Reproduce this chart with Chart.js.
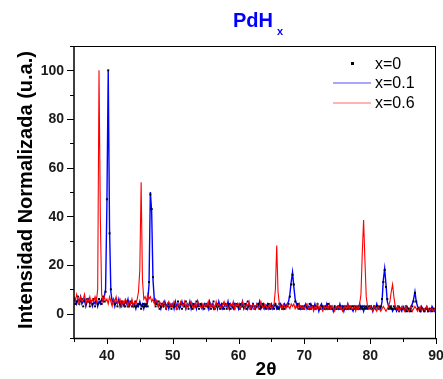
<!DOCTYPE html>
<html>
<head>
<meta charset="utf-8">
<script src="https://cdn.jsdelivr.net/npm/chart.js@4/dist/chart.umd.min.js"></script>
<style>
html,body{margin:0;padding:0;background:#fff;}
canvas{display:block;}
</style>
</head>
<body>
<canvas id="c" width="443" height="379"></canvas>
<script>
// Scan grid (2θ, degrees)
const angleStart = 35;
const angleStep = 0.2;

// Normalised intensity, x = 0 (black squares)
const intensityX0 = [
  6,4,5,7,4,5,6,3,5,4,6,5,3,5,4,6,3,5,4,6,5,4,7,5,9,
  47,100,33,10,4,5,4,6,3,5,4,3,5,4,3,5,3,4,5,3,4,3,5,3,4,
  4,2,3,4,3,4,3,13,49,43,15,5,3,4,5,2,3,4,3,4,2,3,4,3,2,
  3,4,3,2,5,3,4,2,4,3,5,3,2,4,3,2,4,3,5,3,2,4,3,3,2,
  4,3,3,4,2,3,5,2,3,4,3,2,3,4,2,4,2,3,4,2,3,4,2,4,3,
  3,2,4,3,3,4,2,5,3,2,3,4,2,3,3,4,2,3,4,3,3,2,3,4,2,
  3,3,2,4,3,2,4,3,2,3,2,3,3,4,7,12,16,12,5,3,4,2,3,2,3,
  2,3,3,2,4,2,3,3,2,3,4,2,2,3,3,2,3,2,4,2,3,2,2,3,2,
  2,3,2,3,2,3,2,3,2,3,2,3,3,2,3,2,3,2,3,2,3,2,3,2,3,
  3,2,2,3,2,3,3,2,3,6,13,18,11,6,2,3,2,2,3,2,2,3,1,2,2,
  2,2,3,1,2,2,1,3,5,8.5,5,2,2,1,2,2,1,2,2,1,2,2,1,2,2,
  1
];

// Normalised intensity, x = 0.1 (blue line)
const intensityX01 = [
  5,6,4,6,5,7,4,5,6,3,5,6,4,5,3,5,4,6,3,5,4,6,5,7,10,
  45,100,35,9,5,6,3,5,4,6,3,5,4,3,5,4,6,3,4,5,3,4,2,4,3,
  5,3,4,2,4,3,5,12,50,42,14,6,4,5,3,4,2,4,3,5,3,4,2,4,3,
  4,2,5,3,4,2,3,5,3,4,2,4,3,5,2,4,3,4,2,5,3,3,4,2,4,
  3,4,2,5,3,4,2,3,4,2,5,3,4,2,3,4,3,5,2,4,3,2,4,3,4,
  2,4,3,5,2,3,4,2,4,3,2,4,3,2,4,3,5,2,3,4,2,3,4,2,3,
  4,2,3,4,2,3,2,4,3,2,4,3,4,5,8,13,17,11,6,4,3,4,2,3,2,
  3,4,2,3,2,4,3,2,4,2,3,1,3,4,2,3,2,4,2,3,2,3,1,3,2,
  3,2,4,2,3,1,3,2,4,2,3,2,1,3,2,3,2,4,2,3,1,3,2,3,2,
  2,3,1,3,2,4,2,3,2,5,14,18.5,12,5,3,2,3,1,2,3,1,2,3,2,1,
  3,2,1,3,2,1,3,4,6,9,5,3,2,1,3,2,1,2,3,1,2,1,3,2,1,
  2
];

// Normalised intensity, x = 0.6 (red line)
const intensityX06 = [
  7,5,8,6,4,7,5,6,8,4,6,5,7,4,6,5,7,5,10,100,40,8,5,7,5,
  6,4,7,5,3,6,5,7,4,5,6,3,5,4,6,5,3,5,4,6,3,5,4,6,9,
  18,54,14,6,7,5,8,6,7,5,6,4,6,5,3,5,4,3,5,4,2,4,5,3,4,
  3,5,4,2,4,3,5,4,3,5,2,4,3,4,5,3,2,4,3,5,4,3,2,4,3,
  4,3,5,2,4,3,4,2,5,3,4,3,2,4,5,3,4,2,3,4,3,5,2,4,3,
  4,2,3,5,3,2,4,3,5,2,3,4,2,3,4,2,3,5,3,2,4,3,2,3,4,
  2,3,4,10,28,9,4,3,2,4,3,2,4,3,2,4,3,4,2,3,2,4,3,2,3,
  2,3,4,2,3,2,3,1,3,2,4,2,3,2,1,3,2,3,2,4,2,3,2,1,3,
  2,3,2,3,1,2,3,2,4,2,3,2,2,3,1,3,2,4,8,25,38.5,22,7,3,2,
  3,2,1,3,2,1,3,2,1,2,3,2,1,2,3,5,9,12,7,3,2,3,1,2,3,
  2,1,3,2,1,2,3,1,2,3,2,1,2,3,1,2,2,1,3,2,1,2,2,1,2,
  2
];

const seriesLabels = ['x=0', 'x=0.1', 'x=0.6'];
const yTickLabels = [0, 20, 40, 60, 80, 100];
const yMinorTicks = [-10, 10, 30, 50, 70, 90, 110];
const xTickLabels = [40, 50, 60, 70, 80, 90];
const xMinorTicks = [35, 45, 55, 65, 75, 85];

function toPoints(values) {
  return values.map((v, i) => ({ x: +(angleStart + i * angleStep).toFixed(1), y: v }));
}

const decor = {
  id: 'decor',
  afterDraw(chart) {
    const ctx = chart.ctx, xs = chart.scales.x, ys = chart.scales.y, a = chart.chartArea;
    ctx.save();
    // frame
    ctx.strokeStyle = '#000';
    ctx.lineWidth = 1;
    ctx.beginPath();
    ctx.moveTo(a.left, a.top + 0.5); ctx.lineTo(a.right, a.top + 0.5);
    ctx.moveTo(a.right - 0.5, a.top); ctx.lineTo(a.right - 0.5, a.bottom);
    ctx.stroke();
    ctx.lineWidth = 1.5;
    ctx.beginPath();
    ctx.moveTo(a.left, a.top); ctx.lineTo(a.left, a.bottom + 0.75);
    ctx.moveTo(a.left - 0.75, a.bottom + 0.5); ctx.lineTo(a.right, a.bottom + 0.5);
    ctx.stroke();
    // ticks
    ctx.lineWidth = 1;
    ctx.beginPath();
    yTickLabels.forEach(v => { const y = Math.round(ys.getPixelForValue(v)) + 0.5; ctx.moveTo(a.left - 7, y); ctx.lineTo(a.left, y); });
    yMinorTicks.forEach(v => { const y = Math.round(ys.getPixelForValue(v)) + 0.5; ctx.moveTo(a.left - 4, y); ctx.lineTo(a.left, y); });
    xTickLabels.forEach(v => { const x = Math.round(xs.getPixelForValue(v)) + 0.5; ctx.moveTo(x, a.bottom); ctx.lineTo(x, a.bottom + 6); });
    xMinorTicks.forEach(v => { const x = Math.round(xs.getPixelForValue(v)) + 0.5; ctx.moveTo(x, a.bottom); ctx.lineTo(x, a.bottom + 4); });
    ctx.stroke();
    // tick labels
    ctx.fillStyle = '#1a1a1a';
    ctx.font = 'bold 14px "Liberation Sans", Arial, sans-serif';
    ctx.textAlign = 'right';
    ctx.textBaseline = 'middle';
    yTickLabels.forEach(v => ctx.fillText(String(v), a.left - 10, ys.getPixelForValue(v) + 0.5));
    ctx.textAlign = 'center';
    ctx.textBaseline = 'alphabetic';
    xTickLabels.forEach(v => ctx.fillText(String(v), xs.getPixelForValue(v), 360));
    // axis titles
    ctx.fillStyle = '#000';
    ctx.font = 'bold 19px "Liberation Sans", Arial, sans-serif';
    ctx.textAlign = 'center';
    ctx.fillText('2θ', 266, 375);
    ctx.save();
    ctx.translate(32, 190);
    ctx.rotate(-Math.PI / 2);
    ctx.font = 'bold 20px "Liberation Sans", Arial, sans-serif';
    ctx.fillText('Intensidad Normalizada (u.a.)', 0, 0);
    ctx.restore();
    // title
    ctx.fillStyle = '#0000ff';
    ctx.textAlign = 'left';
    ctx.font = 'bold 20px "Liberation Sans", Arial, sans-serif';
    ctx.fillText('PdH', 233, 27);
    const w = ctx.measureText('PdH').width;
    ctx.font = 'bold 11px "Liberation Sans", Arial, sans-serif';
    ctx.fillText('x', 233 + w + 4, 35);
    // legend
    ctx.fillStyle = '#000';
    ctx.fillRect(351, 62, 3, 3);
    ctx.lineWidth = 1;
    ctx.strokeStyle = 'rgba(0,0,255,0.7)';
    ctx.beginPath(); ctx.moveTo(333, 83); ctx.lineTo(371, 83); ctx.stroke();
    ctx.strokeStyle = 'rgba(255,0,0,0.6)';
    ctx.beginPath(); ctx.moveTo(333, 103); ctx.lineTo(371, 103); ctx.stroke();
    ctx.fillStyle = '#000';
    ctx.font = '16px "Liberation Sans", Arial, sans-serif';
    ctx.textBaseline = 'middle';
    ctx.fillText(seriesLabels[0], 375, 64.5);
    ctx.fillText(seriesLabels[1], 375, 84);
    ctx.fillText(seriesLabels[2], 375, 104);
    ctx.restore();
  }
};

new Chart(document.getElementById('c'), {
  type: 'scatter',
  data: {
    datasets: [
      { label: seriesLabels[2], data: toPoints(intensityX06), showLine: true, borderColor: '#ff0000', borderWidth: 1.1, pointRadius: 0, order: 0 },
      { label: seriesLabels[0], data: toPoints(intensityX0), showLine: false, pointStyle: 'rect', pointRadius: 1.4, pointBackgroundColor: '#000', pointBorderWidth: 0, order: 1 },
      { label: seriesLabels[1], data: toPoints(intensityX01), showLine: true, borderColor: '#0000ff', borderWidth: 1.4, pointRadius: 0, order: 2 }
    ]
  },
  options: {
    responsive: false,
    devicePixelRatio: 1,
    animation: false,
    layout: { padding: { left: 74, right: 7, top: 46, bottom: 41 } },
    scales: {
      x: { type: 'linear', min: 35, max: 90, display: false },
      y: { type: 'linear', min: -10, max: 110, display: false }
    },
    plugins: { legend: { display: false }, tooltip: { enabled: false } }
  },
  plugins: [decor]
});
</script>
</body>
</html>
